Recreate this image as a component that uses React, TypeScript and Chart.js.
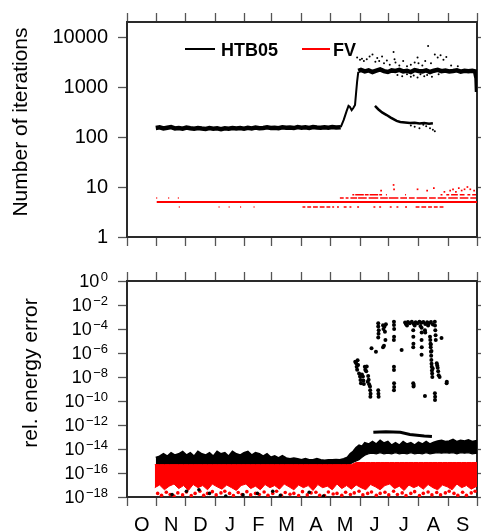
import React, { useEffect, useRef } from 'react';
import { Chart, registerables } from 'chart.js';

Chart.register(...registerables);

// ---------------- data ----------------
const monthLabels = ['O', 'N', 'D', 'J', 'F', 'M', 'A', 'M', 'J', 'J', 'A', 'S'];
const monthStarts = [0, 31, 61, 92, 123, 151, 182, 212, 243, 273, 304, 335, 365];

const iterTicks = [1, 10, 100, 1000, 10000];
const errTicks = [1, 1e-2, 1e-4, 1e-6, 1e-8, 1e-10, 1e-12, 1e-14, 1e-16, 1e-18];
const errTickExps = ['0', '\u22122', '\u22124', '\u22126', '\u22128', '\u221210', '\u221212', '\u221214', '\u221216', '\u221218'];

const iterTitle = 'Number of iterations';
const errTitle = 'rel. energy error';
const seriesNames = ['HTB05', 'FV'];

// HTB05 iterations [day since Oct 1, iterations]
const htbBand1 = [
  [30, 152], [34, 156], [38, 148], [42, 153], [46, 158], [50, 149], [54, 152], [58, 147], [62, 155], [66, 150],
  [70, 146], [74, 152], [78, 148], [82, 145], [86, 151], [90, 147], [94, 149], [98, 144], [102, 150], [106, 146],
  [110, 152], [114, 148], [118, 151], [122, 147], [126, 153], [130, 149], [134, 155], [138, 150], [142, 152], [146, 156],
  [150, 151], [154, 154], [158, 150], [162, 157], [166, 153], [170, 155], [174, 151], [178, 158], [182, 154], [186, 156],
  [190, 152], [194, 159], [198, 155], [202, 153], [206, 157], [210, 154], [214, 158], [218, 155], [222.9, 157],
];
const htbRise = [
  [222.9, 157], [226, 220], [229, 330], [231, 420], [232.5, 400], [234.3, 345], [236, 380], [237.8, 440],
  [239, 800], [240, 1300], [241.2, 2000],
];
const htbBand2 = [
  [241.2, 2100], [244, 2200], [248, 2050], [252, 2150], [256, 2000], [260, 2120], [264, 2250], [268, 2080],
  [272, 2000], [276, 2150], [280, 2100], [284, 2200], [288, 2050], [292, 2120], [296, 1990], [300, 2180],
  [304, 2100], [308, 2060], [312, 2150], [316, 2000], [320, 2120], [324, 2200], [328, 2080], [332, 2140],
  [336, 2050], [340, 2100], [344, 2160], [348, 2030], [352, 2110], [356, 2080], [360, 2120], [363, 2050],
  [364.5, 1500], [365, 800],
];
const htbBranch = [
  [258.6, 420], [262, 360], [266, 310], [270.8, 275], [275, 245], [281.2, 210], [285, 200], [290, 195],
  [295, 190], [300, 192], [305, 186], [310, 190], [315, 184], [319, 188],
];
const htbScatter = [
  [240, 3900], [243, 3500], [245, 3700], [247, 3300], [250, 3600], [253, 4100], [256, 4500], [259, 3200],
  [261, 3800], [263, 3300], [266, 4100], [268, 3000], [271, 3400], [274, 2800], [278, 5000], [279, 3600],
  [280, 3100], [284, 2700], [288, 3300], [292, 2600], [296, 2800], [300, 3100], [303, 3900], [304, 3000],
  [308, 2700], [311, 3300], [314, 6600], [317, 3000], [321, 4500], [324, 3900], [327, 4300], [330, 3500],
  [333, 4000], [338, 2700], [345, 2600],
  [282, 1750], [287, 1650], [292, 1800], [296, 1600], [299, 1700], [303, 1550], [306, 1800], [310, 1650],
  [313, 1750], [318, 1600], [325, 1800],
  [296, 170], [300, 160], [305, 150], [309, 175], [312, 165], [316, 150], [319, 140], [321, 130],
];

// FV iterations
const fvBase = [[31, 5], [365, 5]];
const fv7Segments = [
  [235, 237], [238, 247], [248, 252], [253, 262], [263, 266], [270, 271], [290, 291],
  [327, 329], [333, 336], [338, 345], [347, 352], [355, 358], [360, 364],
];
const fv6Segments = [
  [30.5, 31.5], [43, 44], [53, 54],
  [222, 226], [228, 231], [233, 240], [241, 250], [252, 262], [264, 272], [273, 283], [285, 292],
  [294, 300], [302, 313], [315, 322], [324, 333], [335, 345], [347, 356], [358, 364],
];
const fv4Segments = [
  [54, 55], [95.5, 96.5], [106, 107], [118, 119], [132, 133], [146, 147],
  [183, 186], [188, 192], [194, 199], [201, 206], [208, 212], [214, 216], [219, 221], [226, 229], [232, 234],
  [240, 242], [257, 259], [263, 265], [274, 276], [281, 283], [290, 292], [301, 305], [307, 312], [314, 318],
  [320, 324], [326, 330],
];
const fvScatter = [
  [265, 8.5], [278, 11], [278.5, 9], [303, 9], [313, 8.5], [320, 9.5], [331, 8], [337, 8.5], [340, 9],
  [343, 8], [346, 9.5], [349, 8.5], [352, 9], [355, 10], [358, 9], [362, 8.5],
];

// relative energy error, HTB05 band [day, lower, upper]
const htbErrBand = [
  [30, 4e-16, 1.9e-15], [34, 4e-16, 2.4e-15], [38, 4e-16, 3.8e-15], [42, 4e-16, 2.4e-15], [46, 4e-16, 4.7e-15],
  [50, 4e-16, 3e-15], [54, 4e-16, 3.8e-15], [58, 4e-16, 6e-15], [62, 4e-16, 3e-15], [66, 4e-16, 4.7e-15],
  [70, 4e-16, 2.4e-15], [74, 4e-16, 6e-15], [78, 4e-16, 3.8e-15], [82, 4e-16, 3e-15], [86, 4e-16, 4.7e-15],
  [90, 4e-16, 2.4e-15], [94, 4e-16, 6e-15], [98, 4e-16, 3.8e-15], [102, 4e-16, 4.7e-15], [106, 4e-16, 2.4e-15],
  [110, 4e-16, 6e-15], [114, 4e-16, 3.8e-15], [118, 4e-16, 3e-15], [122, 4e-16, 4.7e-15], [126, 4e-16, 6e-15],
  [130, 4e-16, 3e-15], [134, 4e-16, 4.7e-15], [138, 4e-16, 3.8e-15], [142, 4e-16, 2.4e-15], [146, 4e-16, 3.8e-15],
  [150, 4e-16, 2e-15], [154, 4e-16, 2.6e-15], [158, 4e-16, 1.7e-15], [162, 4e-16, 2.6e-15], [166, 4e-16, 1.7e-15],
  [170, 4e-16, 1.5e-15], [174, 4e-16, 1.7e-15], [178, 4e-16, 1.5e-15], [182, 4e-16, 1.2e-15], [186, 4e-16, 1.5e-15],
  [190, 4e-16, 1.2e-15], [194, 4e-16, 1.2e-15], [198, 4e-16, 1.5e-15], [202, 4e-16, 1.2e-15], [206, 4e-16, 1.1e-15],
  [210, 4e-16, 1.2e-15], [214, 4e-16, 1.2e-15], [218, 4e-16, 1.3e-15], [222, 4e-16, 1.2e-15], [226, 4e-16, 1.5e-15],
  [230, 4e-16, 2e-15], [233, 6e-16, 4e-15], [236, 8e-16, 6.3e-15], [239, 1e-15, 1.3e-14], [242, 1.3e-15, 2e-14],
  [245, 2e-15, 1.6e-14], [248, 3e-15, 3.2e-14], [252, 4e-15, 2.5e-14], [256, 4.5e-15, 4e-14], [260, 4e-15, 2.5e-14],
  [264, 5e-15, 5e-14], [268, 4e-15, 3e-14], [272, 4.5e-15, 4e-14], [276, 4e-15, 2e-14], [280, 5e-15, 3.2e-14],
  [284, 4e-15, 2e-14], [288, 4.5e-15, 4e-14], [292, 4e-15, 2.5e-14], [296, 5e-15, 3.2e-14], [300, 4e-15, 2e-14],
  [304, 4.5e-15, 3.5e-14], [308, 4e-15, 2.5e-14], [312, 5e-15, 4e-14], [316, 4e-15, 2.5e-14], [320, 4.5e-15, 3.5e-14],
  [324, 5e-15, 4.5e-14], [328, 4.5e-15, 5e-14], [332, 5e-15, 4e-14], [336, 4.5e-15, 4.5e-14], [340, 5e-15, 6e-14],
  [344, 4e-15, 4e-14], [348, 5e-15, 5e-14], [352, 4.5e-15, 4.5e-14], [356, 5e-15, 5.5e-14], [360, 4e-15, 4e-14],
  [365, 4.5e-15, 5e-14],
];
const htbErrStreak = [[256.9, 2.5e-13], [270, 2.8e-13], [285, 2.5e-13], [295, 1.6e-13], [310, 1.2e-13], [318, 1.1e-13]];
const htbErrOutliers = [
  [238, 1.9e-7], [239, 1.4e-7], [239.5, 7e-8], [240, 4e-8], [241, 1e-7], [240.5, 2.5e-7],
  [242, 2e-8], [243, 1.1e-8], [243.5, 5.6e-9], [244, 3e-9], [246, 1.1e-8], [246.5, 5e-9], [247, 2.6e-9], [245, 1.6e-8],
  [248, 7e-8], [248.5, 4e-8], [249.5, 3e-8], [250, 7.5e-8], [251.5, 1.2e-8], [252, 6e-9], [252.5, 2.5e-9], [251, 4e-9],
  [253.4, 1.6e-9], [253.6, 8e-10], [254, 4e-10], [253.8, 2.3e-10],
  [262, 8e-10], [262.2, 4e-10], [262.4, 2.3e-10],
  [255, 2.5e-6], [259.6, 1.3e-6],
  [262, 3e-4], [262, 1.6e-4], [262.5, 8e-5], [262.3, 4e-5], [262, 2e-5],
  [267, 2.1e-4], [267.5, 1e-4], [268.5, 1.6e-4], [269, 6e-5], [270, 2.5e-4], [269.5, 1.2e-5], [268, 4e-6], [267, 3e-6],
  [278.4, 4e-4], [278.4, 2.2e-4], [278.6, 1e-4], [278.5, 2.3e-5], [278.3, 1.2e-5],
  [278.4, 7e-8], [278.4, 3.8e-8], [278.6, 1.5e-9], [278.4, 8e-10], [278.5, 3e-9],
  [286.4, 1.8e-6],
  [290, 3.5e-4], [291, 2.5e-4], [293, 3.8e-4], [295, 3e-4], [297, 4e-4], [299, 2.8e-4], [301, 3.6e-4], [303, 3e-4],
  [305, 4e-4], [307, 3.3e-4], [309, 3.8e-4], [311, 2.6e-4], [313, 3.6e-4], [315, 3e-4], [317, 3.8e-4], [319, 2.4e-4],
  [292, 2e-4], [300, 2e-4], [306, 1.8e-4], [314, 2e-4],
  [298.5, 8e-5], [298.6, 2.3e-5], [298.7, 6e-6], [298.5, 3e-6],
  [307.2, 1.3e-4], [307.3, 5e-5], [307.2, 1.2e-5], [307.4, 3e-6], [307.2, 7e-7], [310.7, 8e-5], [311, 5e-5],
  [316, 2.3e-5], [316.3, 1.2e-5], [316.5, 6e-6], [316.7, 3e-6], [317, 1.3e-6], [317.2, 6e-7], [317.4, 2.6e-7],
  [317.6, 1.3e-7], [317.8, 7e-8], [318, 3.5e-8], [318.2, 2e-8], [318.4, 1e-8], [316.8, 5e-6], [317.5, 1.5e-6], [318.8, 5e-8],
  [321, 4e-4], [321.2, 2e-4], [321.5, 8e-5], [321.8, 3e-5], [322, 1.2e-5],
  [323, 1.4e-7], [324, 6e-8], [324.5, 3e-8], [325, 1.4e-8], [326, 1e-8], [323.5, 9e-8],
  [328, 1.8e-5], [333.3, 3e-9], [333.5, 4e-9],
  [310.7, 2.6e-10], [321.1, 4.4e-10], [321.3, 2.3e-10], [321.2, 1.2e-10],
  [298.5, 3e-9], [298.8, 1.6e-9], [299, 2.2e-9],
];
const htbErrLow = [
  [47, 1.6e-18], [62, 3e-18], [75, 4e-18], [86, 2e-18], [103, 1.2e-18], [121, 1.5e-18],
  [136, 2e-18], [152, 3e-18], [160, 1.4e-18], [190, 2.5e-18], [205, 1.2e-18],
];

// relative energy error, FV band [day, lower, upper]
const fvErrBand = [
  [29, 6e-18, 5e-16], [34, 1e-17, 5e-16], [39, 4e-18, 5e-16], [44, 8e-18, 5e-16], [49, 1.2e-17, 5e-16],
  [54, 5e-18, 5e-16], [59, 9e-18, 5e-16], [64, 3.5e-18, 5e-16], [69, 1.1e-17, 5e-16], [74, 6e-18, 5e-16],
  [79, 9e-18, 5e-16], [84, 4e-18, 5e-16], [89, 1.2e-17, 5e-16], [94, 7e-18, 5e-16], [99, 4.5e-18, 5e-16],
  [104, 1e-17, 5e-16], [109, 6e-18, 5e-16], [114, 3.5e-18, 5e-16], [119, 9e-18, 5e-16], [124, 1.2e-17, 5e-16],
  [129, 5e-18, 5e-16], [134, 8e-18, 5e-16], [139, 4e-18, 5e-16], [144, 1.1e-17, 5e-16], [149, 6e-18, 5e-16],
  [154, 9e-18, 5e-16], [159, 4.5e-18, 5e-16], [164, 1.2e-17, 5e-16], [169, 7e-18, 5e-16], [174, 4e-18, 5e-16],
  [179, 1e-17, 5e-16], [184, 6e-18, 5e-16], [189, 9e-18, 5e-16], [194, 3.5e-18, 5e-16], [199, 1.1e-17, 5e-16],
  [204, 6e-18, 5e-16], [209, 8e-18, 5e-16], [214, 4e-18, 5e-16], [219, 1.2e-17, 5e-16], [224, 5e-18, 5e-16],
  [229, 9e-18, 5e-16], [234, 4.5e-18, 5e-16], [239, 1e-17, 7.5e-16], [244, 6e-18, 7.5e-16], [249, 4e-18, 7.5e-16],
  [254, 1.1e-17, 7.5e-16], [259, 7e-18, 7.5e-16], [264, 4e-18, 7.5e-16], [269, 9e-18, 7.5e-16], [274, 1.2e-17, 7.5e-16],
  [279, 5e-18, 7.5e-16], [284, 8e-18, 7.5e-16], [289, 3.5e-18, 7.5e-16], [294, 1e-17, 7.5e-16], [299, 6e-18, 7.5e-16],
  [304, 9e-18, 7.5e-16], [309, 4.5e-18, 7.5e-16], [314, 1.1e-17, 7.5e-16], [319, 6e-18, 7.5e-16], [324, 4e-18, 7.5e-16],
  [329, 1e-17, 7.5e-16], [334, 7e-18, 7.5e-16], [339, 4e-18, 7.5e-16], [344, 1.2e-17, 7.5e-16], [349, 6e-18, 7.5e-16],
  [354, 9e-18, 7.5e-16], [359, 4.5e-18, 7.5e-16], [365, 8e-18, 7.5e-16],
];
const fvErrDots = [
  [32, 2e-18], [36, 1.4e-18], [41, 2.5e-18], [45, 1.6e-18], [49, 1.2e-18], [53, 2.2e-18], [58, 1.5e-18], [62, 2.6e-18],
  [67, 1.3e-18], [71, 2e-18], [76, 3e-18], [80, 1.4e-18], [84, 2e-18], [89, 2.8e-18], [93, 1.5e-18], [98, 2.2e-18],
  [102, 3e-18], [107, 2e-18], [111, 1.3e-18], [116, 2.4e-18], [120, 1.6e-18], [125, 2.8e-18], [129, 1.5e-18], [134, 2e-18],
  [138, 1.6e-18], [143, 2.6e-18], [147, 1.4e-18], [152, 2e-18], [156, 3e-18], [161, 1.4e-18], [165, 2.4e-18], [170, 1.7e-18],
  [174, 2e-18], [179, 1.3e-18], [183, 2.8e-18], [188, 1.5e-18], [192, 2.2e-18], [197, 2.5e-18], [201, 1.4e-18], [206, 1.3e-18],
  [210, 2.6e-18], [215, 1.8e-18], [219, 2e-18], [224, 1.4e-18], [228, 2.5e-18], [233, 1.6e-18], [237, 2.2e-18], [242, 3e-18],
  [246, 1.5e-18], [251, 2e-18], [255, 2.6e-18], [260, 1.4e-18], [264, 2e-18], [269, 2.5e-18], [273, 1.5e-18], [278, 3e-18],
  [282, 1.6e-18], [287, 2.2e-18], [291, 1.3e-18], [296, 2e-18], [300, 2.8e-18], [305, 1.3e-18], [309, 2e-18], [314, 2.6e-18],
  [318, 1.5e-18], [323, 2.4e-18], [327, 1.5e-18], [332, 2.2e-18], [336, 3e-18], [341, 2e-18], [345, 1.4e-18], [350, 2.5e-18],
  [354, 1.4e-18], [359, 2.2e-18], [363, 3e-18],
];

// ---------------- styling ----------------
const FONT = "'Liberation Sans', Arial, Helvetica, sans-serif";
const BLACK = '#000000';
const RED = '#ff0000';
const AXIS = '#2a2a2a';
const TICK = '#555555';
const W = 481;
const TOP_H = 260;
const BOT_H = 272;

Chart.defaults.font.family = FONT;

const pts = (arr: number[][]) => arr.map(([x, y]) => ({ x, y }));
const segs = (arr: number[][], v: number) =>
  arr.flatMap(([a, b]) => [{ x: a, y: v }, { x: b, y: v }, { x: b, y: null as any }]);

function xAxis(position: string, height: number) {
  return {
    type: 'linear',
    position,
    min: 0,
    max: 365,
    bounds: 'data',
    afterBuildTicks: (s: any) => { s.ticks = monthStarts.map((v) => ({ value: v })); },
    afterFit: (s: any) => { s.height = height; },
    ticks: { display: false },
    grid: { display: true, drawOnChartArea: false, drawTicks: true, tickLength: 9, tickColor: TICK, tickWidth: 1.3 },
    border: { display: true, color: AXIS, width: 2 },
  };
}

function yAxis(position: string, width: number, min: number, max: number, ticks: number[], showLabels: boolean, tickLength: number) {
  return {
    type: 'logarithmic',
    position,
    min,
    max,
    bounds: 'data',
    afterBuildTicks: (s: any) => { s.ticks = ticks.map((v) => ({ value: v })); },
    afterFit: (s: any) => { s.width = width; },
    ticks: {
      display: showLabels,
      autoSkip: false,
      padding: 10,
      color: '#000',
      font: { family: FONT, size: 20 },
      callback: (v: any) => String(v),
    },
    grid: { display: true, drawOnChartArea: false, drawTicks: true, tickLength, tickColor: TICK, tickWidth: 1.3 },
    border: { display: true, color: AXIS, width: 2 },
  };
}

const lineDs = (data: any[], color: string, width: number, extra: any = {}) => ({
  type: 'line',
  data,
  borderColor: color,
  backgroundColor: color,
  borderWidth: width,
  pointRadius: 0,
  tension: 0,
  fill: false,
  spanGaps: false,
  ...extra,
});

const dotDs = (data: any[], color: string, radius: number, extra: any = {}) => ({
  type: 'scatter',
  data,
  showLine: false,
  borderColor: color,
  backgroundColor: color,
  pointRadius: radius,
  pointBorderWidth: 0,
  ...extra,
});

const topTextPlugin = {
  id: 'topText',
  afterDraw(chart: any) {
    const ctx = chart.ctx;
    ctx.save();
    ctx.fillStyle = '#000';
    ctx.font = `21px ${FONT}`;
    ctx.textAlign = 'center';
    ctx.textBaseline = 'alphabetic';
    ctx.translate(27, 122);
    ctx.rotate(-Math.PI / 2);
    ctx.fillText(iterTitle, 0, 0);
    ctx.restore();

    // legend
    ctx.save();
    ctx.lineWidth = 2;
    ctx.strokeStyle = BLACK;
    ctx.beginPath(); ctx.moveTo(185, 49); ctx.lineTo(215, 49); ctx.stroke();
    ctx.strokeStyle = RED;
    ctx.beginPath(); ctx.moveTo(302, 49); ctx.lineTo(330, 49); ctx.stroke();
    ctx.fillStyle = '#000';
    ctx.font = `bold 18px ${FONT}`;
    ctx.textAlign = 'left';
    ctx.textBaseline = 'alphabetic';
    ctx.fillText(seriesNames[0], 221, 55.5);
    ctx.fillText(seriesNames[1], 333, 55.5);
    ctx.restore();
  },
};

const botTextPlugin = {
  id: 'botText',
  afterDraw(chart: any) {
    const ctx = chart.ctx;
    const ys = chart.scales.y;
    const xs = chart.scales.x;
    ctx.save();
    ctx.fillStyle = '#000';
    ctx.font = `21px ${FONT}`;
    ctx.textAlign = 'center';
    ctx.textBaseline = 'alphabetic';
    ctx.translate(37, 113);
    ctx.rotate(-Math.PI / 2);
    ctx.fillText(errTitle, 0, 0);
    ctx.restore();

    ctx.save();
    ctx.fillStyle = '#000';
    ctx.textBaseline = 'alphabetic';
    ctx.textAlign = 'right';
    errTicks.forEach((v, i) => {
      const y = ys.getPixelForValue(v);
      ctx.font = `13px ${FONT}`;
      const e = errTickExps[i];
      const ew = ctx.measureText(e).width;
      ctx.fillText(e, 108, y - 0.5);
      ctx.font = `18px ${FONT}`;
      ctx.fillText('10', 108 - ew - 1.5, y + 6.3);
    });
    ctx.font = `20px ${FONT}`;
    ctx.textAlign = 'center';
    monthLabels.forEach((m, i) => {
      const mid = (monthStarts[i] + monthStarts[i + 1]) / 2;
      ctx.fillText(m, xs.getPixelForValue(mid), 270.5);
    });
    ctx.restore();
  },
};

function topConfig(): any {
  return {
    type: 'line',
    data: {
      datasets: [
        lineDs(pts(htbBand1), BLACK, 4.5, { order: 2 }),
        lineDs(pts(htbRise), BLACK, 2, { order: 2 }),
        lineDs(pts(htbBand2), BLACK, 4.5, { order: 2 }),
        lineDs(pts(htbBranch), BLACK, 2.5, { order: 2 }),
        dotDs(pts(htbScatter), BLACK, 1, { order: 2 }),
        lineDs(pts(fvBase), RED, 2, { order: 1 }),
        lineDs(segs(fv7Segments, 7), RED, 1.5, { order: 1 }),
        lineDs(segs(fv6Segments, 6), RED, 1.5, { order: 1 }),
        lineDs(segs(fv4Segments, 4), RED, 1.5, { order: 1 }),
        dotDs(pts(fvScatter), RED, 1.2, { order: 1, pointStyle: 'rect' }),
      ],
    },
    options: {
      responsive: false,
      animation: false,
      devicePixelRatio: 1,
      layout: { padding: 0 },
      plugins: { legend: { display: false }, tooltip: { enabled: false } },
      scales: {
        x: xAxis('bottom', TOP_H - 237),
        x2: xAxis('top', 19),
        y: yAxis('left', 127, 1, 2e4, iterTicks, true, 9),
        y2: yAxis('right', 4, 1, 2e4, iterTicks, false, 4),
      },
    },
    plugins: [topTextPlugin],
  };
}

function botConfig(): any {
  return {
    type: 'line',
    data: {
      datasets: [
        lineDs(htbErrBand.map(([d, lo]) => ({ x: d, y: lo })), BLACK, 1.2, { order: 6 }),
        lineDs(htbErrBand.map(([d, , hi]) => ({ x: d, y: hi })), BLACK, 2, { order: 6, fill: '-1' }),
        lineDs(fvErrBand.map(([d, lo]) => ({ x: d, y: lo })), RED, 1, { order: 4 }),
        lineDs(fvErrBand.map(([d, , hi]) => ({ x: d, y: hi })), RED, 1, { order: 4, fill: '-1' }),
        dotDs(pts(fvErrDots), RED, 1.8, { order: 3 }),
        lineDs(pts(htbErrStreak), BLACK, 3, { order: 2 }),
        dotDs(pts(htbErrOutliers), BLACK, 2, { order: 1 }),
        dotDs(pts(htbErrLow), BLACK, 1.8, { order: 1 }),
      ],
    },
    options: {
      responsive: false,
      animation: false,
      devicePixelRatio: 1,
      layout: { padding: 0 },
      plugins: { legend: { display: false }, tooltip: { enabled: false } },
      scales: {
        x: xAxis('bottom', BOT_H - 237),
        x2: xAxis('top', 21),
        y: yAxis('left', 127, 1e-18, 1, errTicks, false, 9),
        y2: yAxis('right', 4, 1e-18, 1, errTicks, false, 4),
      },
    },
    plugins: [botTextPlugin],
  };
}

export default function App() {
  const topRef = useRef<HTMLCanvasElement>(null);
  const botRef = useRef<HTMLCanvasElement>(null);
  useEffect(() => {
    const c1 = new Chart(topRef.current as HTMLCanvasElement, topConfig());
    const c2 = new Chart(botRef.current as HTMLCanvasElement, botConfig());
    return () => { c1.destroy(); c2.destroy(); };
  }, []);
  return (
    <div style={{ position: 'absolute', left: 0, top: 0, width: W, height: TOP_H + BOT_H, background: '#fff' }}>
      <canvas ref={topRef} width={W} height={TOP_H} style={{ position: 'absolute', left: 0, top: 0, width: W, height: TOP_H }} />
      <canvas ref={botRef} width={W} height={BOT_H} style={{ position: 'absolute', left: 0, top: TOP_H, width: W, height: BOT_H }} />
    </div>
  );
}
